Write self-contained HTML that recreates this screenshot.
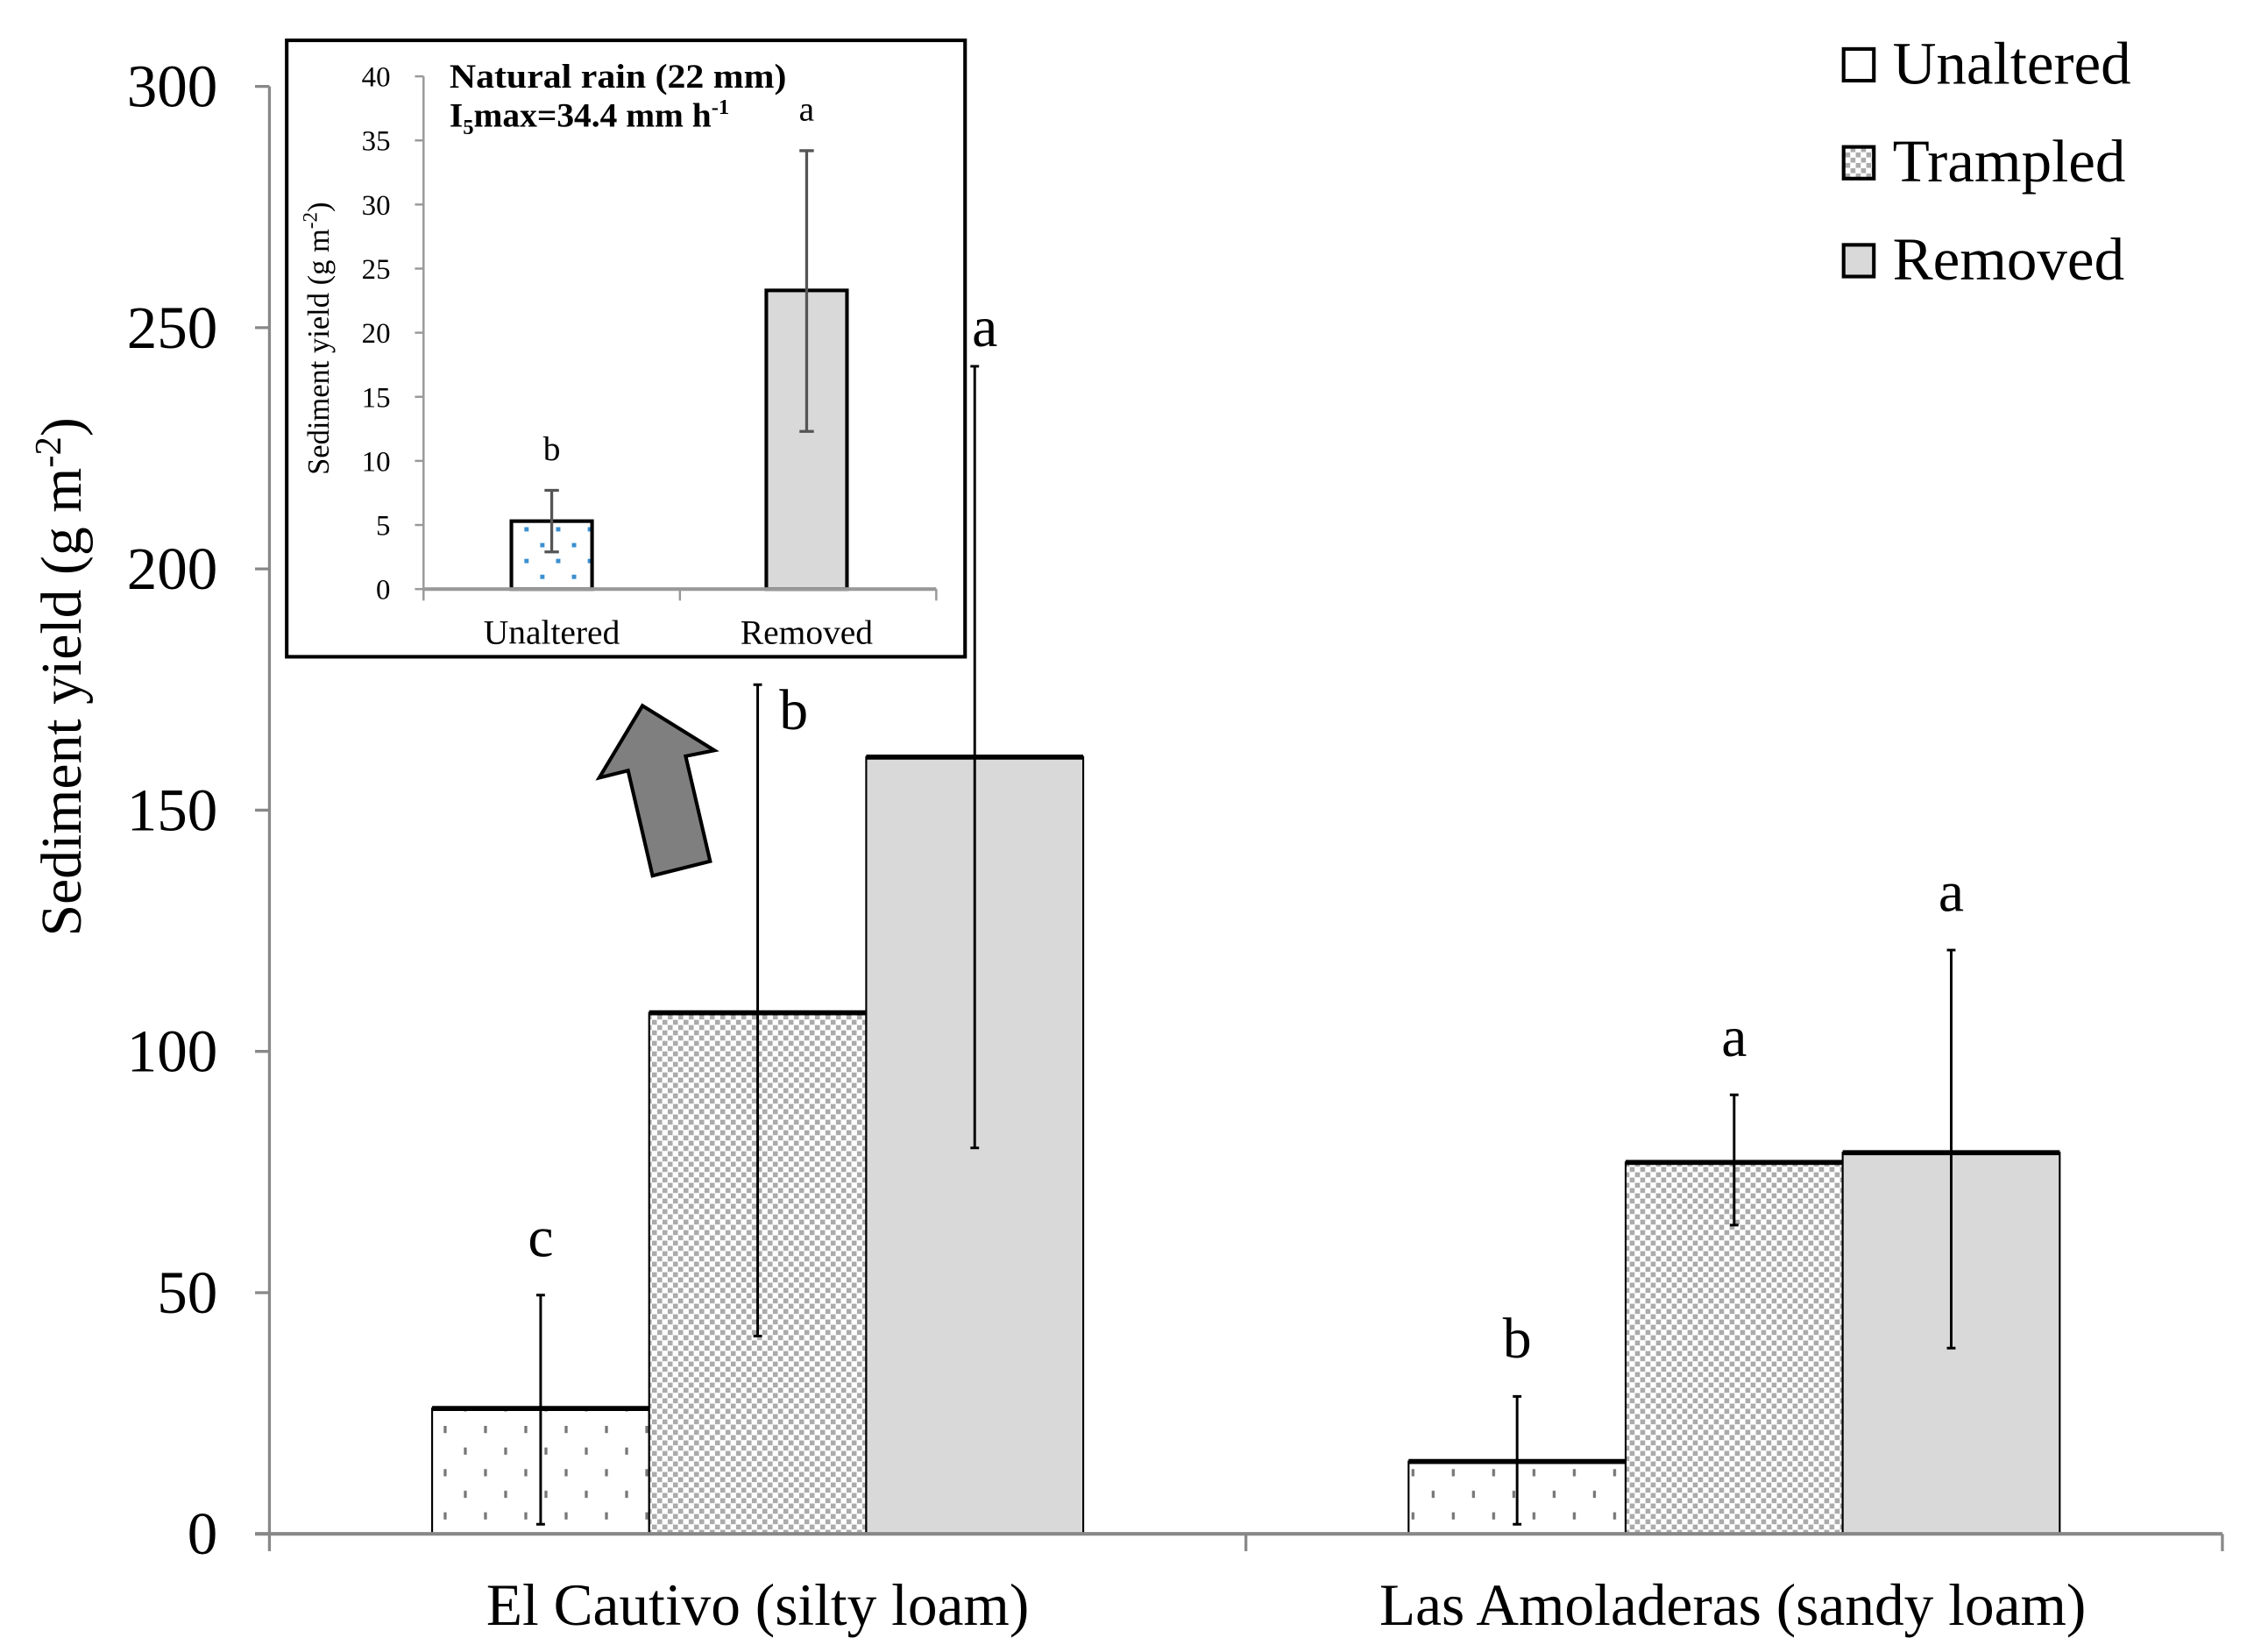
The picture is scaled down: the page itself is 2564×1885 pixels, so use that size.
<!DOCTYPE html>
<html><head><meta charset="utf-8"><style>
html,body{margin:0;padding:0;background:#fff}
svg{display:block}
text{font-family:"Liberation Serif",serif;fill:#000}
</style></head><body>
<svg id="chart" width="2564" height="1885" viewBox="0 0 1560 1147" xmlns="http://www.w3.org/2000/svg">
<defs>
<pattern id="pU" width="28" height="30" patternUnits="userSpaceOnUse" x="308" y="0">
<rect x="0" y="0" width="2" height="5" fill="#777"/><rect x="14" y="15" width="2" height="5" fill="#777"/>
</pattern>
<pattern id="pT" width="7.3" height="7.3" patternUnits="userSpaceOnUse">
<rect width="7.3" height="7.3" fill="#fff"/>
<rect x="0" y="0" width="3.4" height="3.4" fill="#ababab"/><rect x="3.65" y="3.65" width="3.4" height="3.4" fill="#ababab"/>
</pattern>
<pattern id="pUi" width="22" height="22" patternUnits="userSpaceOnUse" x="364" y="366">
<rect x="0" y="0" width="3" height="3" fill="#3a8fd0"/><rect x="11" y="11" width="3" height="3" fill="#3a8fd0"/>
</pattern>
</defs>
<g id="main"></g>
<g id="inset"></g>
<polygon points="446,490 496,521 476,525 493,598 453,608 436,535 416,540" fill="#7f7f7f" stroke="#000" stroke-width="2.5" stroke-linejoin="miter"/>
<g>
<g><rect x="1280" y="34" width="21" height="22" fill="#fff" stroke="#000" stroke-width="2.5"/><text x="1314" y="58" font-size="42">Unaltered</text></g>
<g><rect x="1280" y="102" width="21" height="22" fill="url(#pT)" stroke="#000" stroke-width="2.5"/><text x="1314" y="126" font-size="42">Trampled</text></g>
<g><rect x="1280" y="170" width="21" height="22" fill="#d9d9d9" stroke="#000" stroke-width="2.5"/><text x="1314" y="194" font-size="42">Removed</text></g>
</g>
</svg>
<script>
const categories = ["El Cautivo (silty loam)", "Las Amoladeras (sandy loam)"];
const seriesNames = ["Unaltered", "Trampled", "Removed"];
const unalteredVals = [26, 15];
const trampledVals = [108, 77];
const removedVals = [161, 79];
const unalteredLow = [2, 2]; const unalteredHigh = [49.5, 28.5];
const trampledLow = [41, 64]; const trampledHigh = [176, 91];
const removedLow = [80, 38.5]; const removedHigh = [242, 121];
const letters = [["c","b","a"],["b","a","a"]];
const yTicks = [0, 50, 100, 150, 200, 250, 300];

const insetCategories = ["Unaltered", "Removed"];
const insetVals = [5.3, 23.3];
const insetLow = [2.9, 12.3];
const insetHigh = [7.7, 34.2];
const insetLetters = ["b", "a"];
const insetTicks = [0, 5, 10, 15, 20, 25, 30, 35, 40];

const NS = "http://www.w3.org/2000/svg";
function mk(parent, tag, attrs, txt){const e=document.createElementNS(NS,tag);for(const k in attrs)e.setAttribute(k,attrs[k]);if(txt!==undefined)e.textContent=txt;parent.appendChild(e);return e;}

const X0=187, X1=1543, Y0=1065, Ytop=60, YMAX=300;
const y = v => Y0 - (v/YMAX)*(Y0-Ytop);
const groupW = (X1-X0)/categories.length;
const barW = 150.7;
const main = document.getElementById('main');

const yAxis = mk(main,'line',{x1:X0,y1:Ytop,x2:X0,y2:Y0,stroke:'#888','stroke-width':2});


yTicks.forEach(t=>{
  const tk=mk(main,'line',{x1:X0-10,y1:y(t),x2:X0,y2:y(t),stroke:'#888','stroke-width':2});
  
  
  const lb=mk(main,'text',{x:151,y:y(t)+14,'font-size':42,'text-anchor':'end'},t);
  
  
});
const yt=mk(main,'text',{x:0,y:0,'font-size':40,'text-anchor':'middle',transform:'translate(56,470) rotate(-90)'});


yt.innerHTML='Sediment yield (g m<tspan dy="-14" font-size="26">-2</tspan><tspan dy="14">)</tspan>';

const series=[[unalteredVals,unalteredLow,unalteredHigh,'url(#pU)','unaltered'],[trampledVals,trampledLow,trampledHigh,'url(#pT)','trampled'],[removedVals,removedLow,removedHigh,'#d9d9d9','removed']];
categories.forEach((c,i)=>{
  const gx = X0 + groupW*i + groupW/2;
  const start = gx - barW*1.5;
  series.forEach((s,j)=>{
    const bx = start + j*barW, v=s[0][i];
    const r=mk(main,'rect',{x:bx,y:y(v),width:barW,height:Y0-y(v),fill:s[3],stroke:'#000','stroke-width':1.3});
    
    
    mk(main,'line',{x1:bx,y1:y(v),x2:bx+barW,y2:y(v),stroke:'#000','stroke-width':3.5});
    const cx = bx+barW/2;
    const eb=mk(main,'path',{d:`M${cx},${y(s[1][i])}V${y(s[2][i])}M${cx-3},${y(s[1][i])}h6M${cx-3},${y(s[2][i])}h6`,stroke:'#000','stroke-width':1.8,fill:'none'});
    
    
    let lx=cx, ly=y(s[2][i])-27;
    if(i===0&&j===1){lx=cx+25; ly=y(s[2][i])+31;}
    if(i===0&&j===2){lx=cx+7; ly=y(s[2][i])-14;}
    const lt=mk(main,'text',{x:lx,y:ly,'font-size':40,'text-anchor':'middle'},letters[i][j]);
    
    
  });
  const cl=mk(main,'text',{x:i===0?526:1203,y:1128,'font-size':41,'text-anchor':'middle'},c);
  
  
});
const xAxis=mk(main,'line',{x1:X0-10,y1:Y0,x2:X1,y2:Y0,stroke:'#888','stroke-width':2.5});


for(let k=0;k<=categories.length;k++){const gx=X0+groupW*k;mk(main,'line',{x1:gx,y1:Y0,x2:gx,y2:Y0+12,stroke:'#888','stroke-width':2});}

const ins=document.getElementById('inset');
const fr=mk(ins,'rect',{x:199,y:28,width:471,height:428,fill:'#fff',stroke:'#000','stroke-width':2.5});


const IX0=294, IX1=650, IY0=409, IYtop=53, IMAX=40;
const iy = v => IY0-(v/IMAX)*(IY0-IYtop);
mk(ins,'line',{x1:IX0,y1:IYtop,x2:IX0,y2:IY0,stroke:'#999','stroke-width':1.5});
insetTicks.forEach(t=>{
  mk(ins,'line',{x1:IX0-6,y1:iy(t),x2:IX0,y2:iy(t),stroke:'#999','stroke-width':1.5});
  const lb=mk(ins,'text',{x:271,y:iy(t)+7,'font-size':20,'text-anchor':'end'},t);
  
  
});
const iyt=mk(ins,'text',{x:0,y:0,'font-size':21,'text-anchor':'middle',transform:'translate(228,235) rotate(-90)'});


iyt.innerHTML='Sediment yield (g m<tspan dy="-8" font-size="14">-2</tspan><tspan dy="8">)</tspan>';
const igw=(IX1-IX0)/insetCategories.length, ibw=56;
const ifills=['url(#pUi)','#d9d9d9'];
insetCategories.forEach((c,i)=>{
  const cx=IX0+igw*i+igw/2+(i===0?0:-1), v=insetVals[i];
  const r=mk(ins,'rect',{x:cx-ibw/2,y:iy(v),width:ibw,height:IY0-iy(v),fill:ifills[i],stroke:'#000','stroke-width':2.5});
  
  
  const eb=mk(ins,'path',{d:`M${cx},${iy(insetLow[i])}V${iy(insetHigh[i])}M${cx-5},${iy(insetLow[i])}h10M${cx-5},${iy(insetHigh[i])}h10`,stroke:'#555','stroke-width':2,fill:'none'});
  
  
  const lt=mk(ins,'text',{x:cx,y:iy(insetHigh[i])-21,'font-size':24,'text-anchor':'middle'},insetLetters[i]);
  
  
  const cl=mk(ins,'text',{x:cx,y:447,'font-size':24,'text-anchor':'middle'},c);
  
  
});
mk(ins,'line',{x1:IX0,y1:IY0,x2:IX1,y2:IY0,stroke:'#999','stroke-width':2.5});
for(let k=0;k<=insetCategories.length;k++){const gx=IX0+igw*k;mk(ins,'line',{x1:gx,y1:IY0,x2:gx,y2:IY0+8,stroke:'#999','stroke-width':1.5});}
const t1=mk(ins,'text',{x:312,y:61,'font-size':24,'font-weight':'bold',textLength:234,lengthAdjust:'spacingAndGlyphs'},'Natural rain (22 mm)');


const t2=mk(ins,'text',{x:312,y:88,'font-size':24,'font-weight':'bold'});


t2.innerHTML='I<tspan dy="5" font-size="15">5</tspan><tspan dy="-5">max=34.4 mm h</tspan><tspan dy="-9" font-size="15">-1</tspan>';
</script>
</body></html>
